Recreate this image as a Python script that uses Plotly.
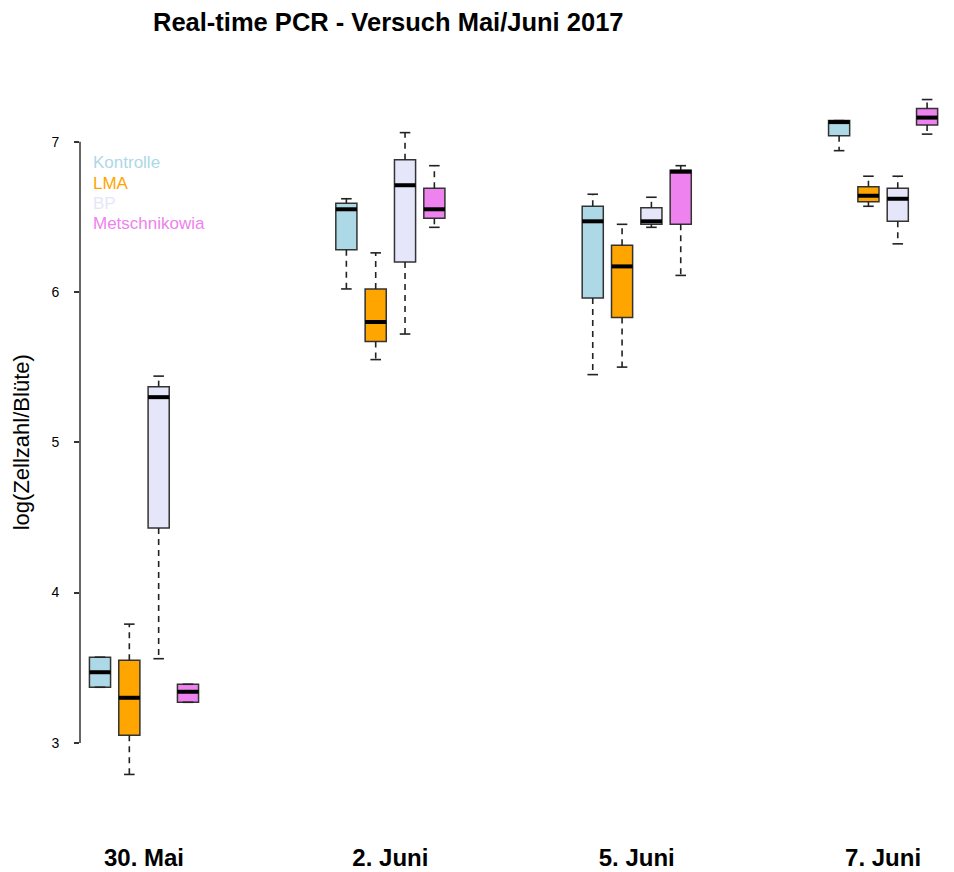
import plotly.graph_objects as go

# ---------------- data ----------------
dates = ["30. Mai", "2. Juni", "5. Juni", "7. Juni"]
series = ["Kontrolle", "LMA", "BP", "Metschnikowia"]
colors = ["#ADD8E6", "#FFA500", "#E6E6FA", "#EE82EE"]

kontrolle_lo  = [3.37, 6.02, 5.45, 6.94]
kontrolle_q1  = [3.37, 6.28, 5.96, 7.04]
kontrolle_med = [3.47, 6.55, 6.47, 7.13]
kontrolle_q3  = [3.57, 6.59, 6.57, 7.14]
kontrolle_hi  = [3.57, 6.62, 6.65, 7.14]

lma_lo  = [2.79, 5.55, 5.50, 6.57]
lma_q1  = [3.05, 5.67, 5.83, 6.60]
lma_med = [3.30, 5.80, 6.17, 6.64]
lma_q3  = [3.55, 6.02, 6.31, 6.70]
lma_hi  = [3.79, 6.26, 6.45, 6.77]

bp_lo  = [3.56, 5.72, 6.43, 6.32]
bp_q1  = [4.43, 6.20, 6.45, 6.47]
bp_med = [5.30, 6.71, 6.47, 6.62]
bp_q3  = [5.37, 6.88, 6.56, 6.69]
bp_hi  = [5.44, 7.06, 6.63, 6.77]

met_lo  = [3.27, 6.43, 6.11, 7.05]
met_q1  = [3.27, 6.49, 6.45, 7.11]
met_med = [3.34, 6.55, 6.80, 7.16]
met_q3  = [3.39, 6.69, 6.81, 7.22]
met_hi  = [3.39, 6.84, 6.84, 7.28]

stats = [
    (kontrolle_lo, kontrolle_q1, kontrolle_med, kontrolle_q3, kontrolle_hi),
    (lma_lo, lma_q1, lma_med, lma_q3, lma_hi),
    (bp_lo, bp_q1, bp_med, bp_q3, bp_hi),
    (met_lo, met_q1, met_med, met_q3, met_hi),
]
yticks = [3, 4, 5, 6, 7]

# ---------------- layout helpers ----------------
GROUP_STEP = 8.4
BOX_W = 0.72
CAP_HW = BOX_W / 4
EDGE = "#333333"
FONT = "Liberation Sans, Arial, sans-serif"

fig = go.Figure()

for s, (name, col, (lo, q1, med, q3, hi)) in enumerate(zip(series, colors, stats)):
    xs = [g * GROUP_STEP + s for g in range(len(dates))]
    wx, wy, cx, cy, mx, my = [], [], [], [], [], []
    for x, a, b, m, c, d in zip(xs, lo, q1, med, q3, hi):
        if a < b:
            wx += [x, x, None]; wy += [b, a, None]
        if d > c:
            wx += [x, x, None]; wy += [c, d, None]
        cx += [x - CAP_HW, x + CAP_HW, None, x - CAP_HW, x + CAP_HW, None]
        cy += [a, a, None, d, d, None]
        mx += [x - BOX_W / 2, x + BOX_W / 2, None]
        my += [m, m, None]
    fig.add_trace(go.Scatter(x=wx, y=wy, mode="lines", showlegend=False, hoverinfo="skip",
                             line=dict(color="#222222", width=1.6, dash="6px,5px")))
    fig.add_trace(go.Scatter(x=cx, y=cy, mode="lines", showlegend=False, hoverinfo="skip",
                             line=dict(color="#222222", width=1.6)))
    fig.add_trace(go.Box(
        x=xs, q1=q1, median=med, q3=q3, lowerfence=q1, upperfence=q3,
        width=BOX_W, whiskerwidth=0, fillcolor=col, name=name, showlegend=False,
        line=dict(color=EDGE, width=1.5), boxpoints=False,
    ))
    fig.add_trace(go.Scatter(x=mx, y=my, mode="lines", showlegend=False, hoverinfo="skip",
                             line=dict(color="black", width=4)))

# ---------------- axes ----------------
centers = [g * GROUP_STEP + (len(series) - 1) / 2 for g in range(len(dates))]
fig.update_xaxes(range=[-0.682, 28.64], tickvals=centers, ticktext=dates,
                 tickfont=dict(family=FONT, size=24, color="black", weight="bold"),
                 showgrid=False, zeroline=False, showline=False, ticks="",
                 ticklabelstandoff=38, automargin=False)
fig.update_yaxes(range=[2.6, 7.45], tickvals=yticks, ticktext=[str(t) for t in yticks],
                 ticks="outside", ticklen=5, tickwidth=1.5, tickcolor=EDGE,
                 tickfont=dict(family=FONT, size=14, color="black"),
                 showgrid=False, zeroline=False, showline=False,
                 ticklabelstandoff=12, automargin=False)

fig.add_shape(type="line", xref="paper", yref="y", x0=0, x1=0,
              y0=min(yticks), y1=max(yticks), line=dict(color=EDGE, width=1.5))

annotations = [
    dict(text="<b>Real-time PCR - Versuch Mai/Juni 2017</b>", xref="paper", yref="paper",
         x=0.3593, y=1.0713, xanchor="center", yanchor="middle", showarrow=False,
         font=dict(family=FONT, size=25.5, color="black")),
    dict(text="log(Zellzahl/Blüte)", xref="paper", yref="y", x=-0.0686, y=5.0,
         xanchor="center", yanchor="middle", textangle=-90, showarrow=False,
         font=dict(family=FONT, size=22, color="black")),
]
for i, (name, col) in enumerate(zip(series, colors)):
    annotations.append(dict(text=name, xref="paper", yref="paper",
                            x=0.0128, y=0.878 - i * 0.0276, xanchor="left", yanchor="middle",
                            showarrow=False, font=dict(family=FONT, size=17, color=col)))

# the page adds an 8px body margin, so the figure is 8px smaller on each side
fig.update_layout(
    width=946, height=864, boxmode="overlay",
    margin=dict(l=72, r=14, t=66, b=69, autoexpand=False),
    plot_bgcolor="white", paper_bgcolor="white",
    annotations=annotations,
)

fig.write_html("out.html")
